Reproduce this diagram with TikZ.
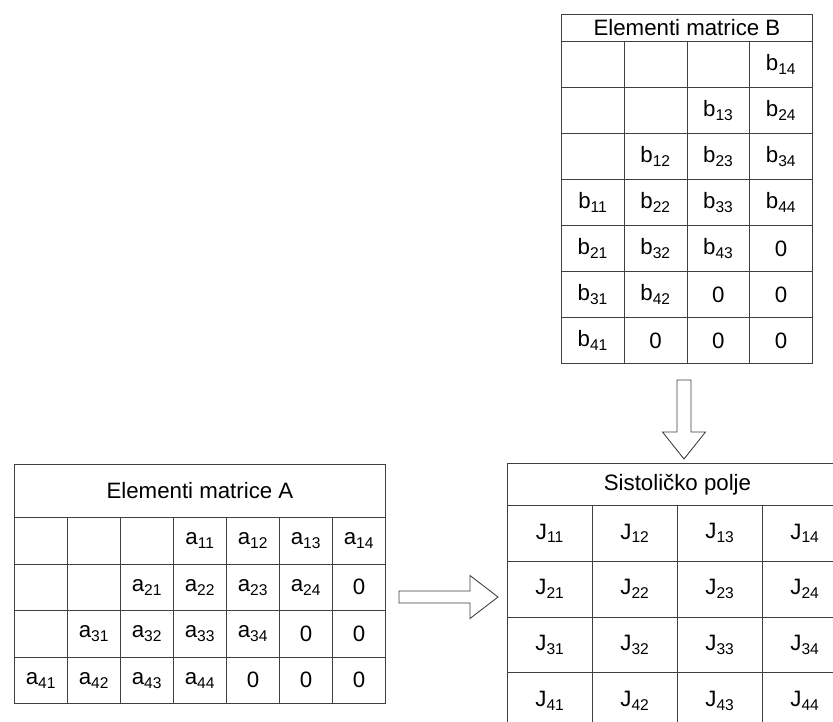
\documentclass[tikz,border=0pt]{standalone}
\usepackage{fontspec}
\setmainfont{Liberation Sans}
\usetikzlibrary{matrix,positioning}

\newcommand{\el}[2]{#1\textsubscript{#2}}

\tikzset{
  gridline/.style={draw=black!75, line width=0.75pt},
  tab/.style={matrix of nodes, nodes in empty cells, inner sep=0pt, outer sep=0pt,
    column sep=-0.75pt, row sep=-0.75pt},
  cell/.style={gridline, anchor=center, inner sep=0pt},
  bcell/.style={cell, minimum width=1.8825cm, minimum height=1.38cm},
  acell/.style={cell, minimum width=1.59cm, minimum height=1.395cm},
  jcell/.style={cell, minimum width=2.55cm, minimum height=1.6725cm},
  bhead/.style={cell, minimum width=7.53cm, minimum height=0.81cm},
  ahead/.style={cell, minimum width=11.13cm, minimum height=1.59cm},
  jhead/.style={cell, minimum width=10.2cm, minimum height=1.26cm},
  blockarrow/.style={draw=black!75, line width=0.75pt, fill=white, line join=miter}
}

\begin{document}
\begin{tikzpicture}[x=0.03cm, y=-0.03cm, font=\fontsize{19}{22}\selectfont]
  \useasboundingbox (0,0) rectangle (833,722);
  \clip (0,0) rectangle (833,722);

  % Draw matrix B
  \matrix (B) [tab, anchor=north west, nodes={bcell}] at (561,41) {
    & & & \el{b}{14} \\
    & & \el{b}{13} & \el{b}{24} \\
    & \el{b}{12} & \el{b}{23} & \el{b}{34} \\
    \el{b}{11} & \el{b}{22} & \el{b}{33} & \el{b}{44} \\
    \el{b}{21} & \el{b}{32} & \el{b}{43} & 0 \\
    \el{b}{31} & \el{b}{42} & 0 & 0 \\
    \el{b}{41} & 0 & 0 & 0 \\
  };
  \node[bhead, above=-0.75pt of B] (Bhead) {Elementi matrice B};

  % Draw matrix A
  \matrix (A) [tab, anchor=north west, nodes={acell}] at (14,517) {
    & & & \el{a}{11} & \el{a}{12} & \el{a}{13} & \el{a}{14} \\
    & & \el{a}{21} & \el{a}{22} & \el{a}{23} & \el{a}{24} & 0 \\
    & \el{a}{31} & \el{a}{32} & \el{a}{33} & \el{a}{34} & 0 & 0 \\
    \el{a}{41} & \el{a}{42} & \el{a}{43} & \el{a}{44} & 0 & 0 & 0 \\
  };
  \node[ahead, above=-0.75pt of A] (Ahead) {Elementi matrice A};

  % Draw the systolic array
  \matrix (J) [tab, anchor=north west, nodes={jcell}] at (507,505) {
    \el{J}{11} & \el{J}{12} & \el{J}{13} & \el{J}{14} \\
    \el{J}{21} & \el{J}{22} & \el{J}{23} & \el{J}{24} \\
    \el{J}{31} & \el{J}{32} & \el{J}{33} & \el{J}{34} \\
    \el{J}{41} & \el{J}{42} & \el{J}{43} & \el{J}{44} \\
  };
  \node[jhead, above=-0.75pt of J] (Jhead) {Sistoličko polje};

  % Draw the block arrows
  \draw[blockarrow] (399,591) -- (470,591) -- (470,575.5) -- (498,597)
    -- (470,618.5) -- (470,603) -- (399,603) -- cycle;
  \draw[blockarrow] (677,380) -- (691,380) -- (691,432) -- (705.5,432)
    -- (684,459) -- (662.5,432) -- (677,432) -- cycle;
\end{tikzpicture}
\end{document}
